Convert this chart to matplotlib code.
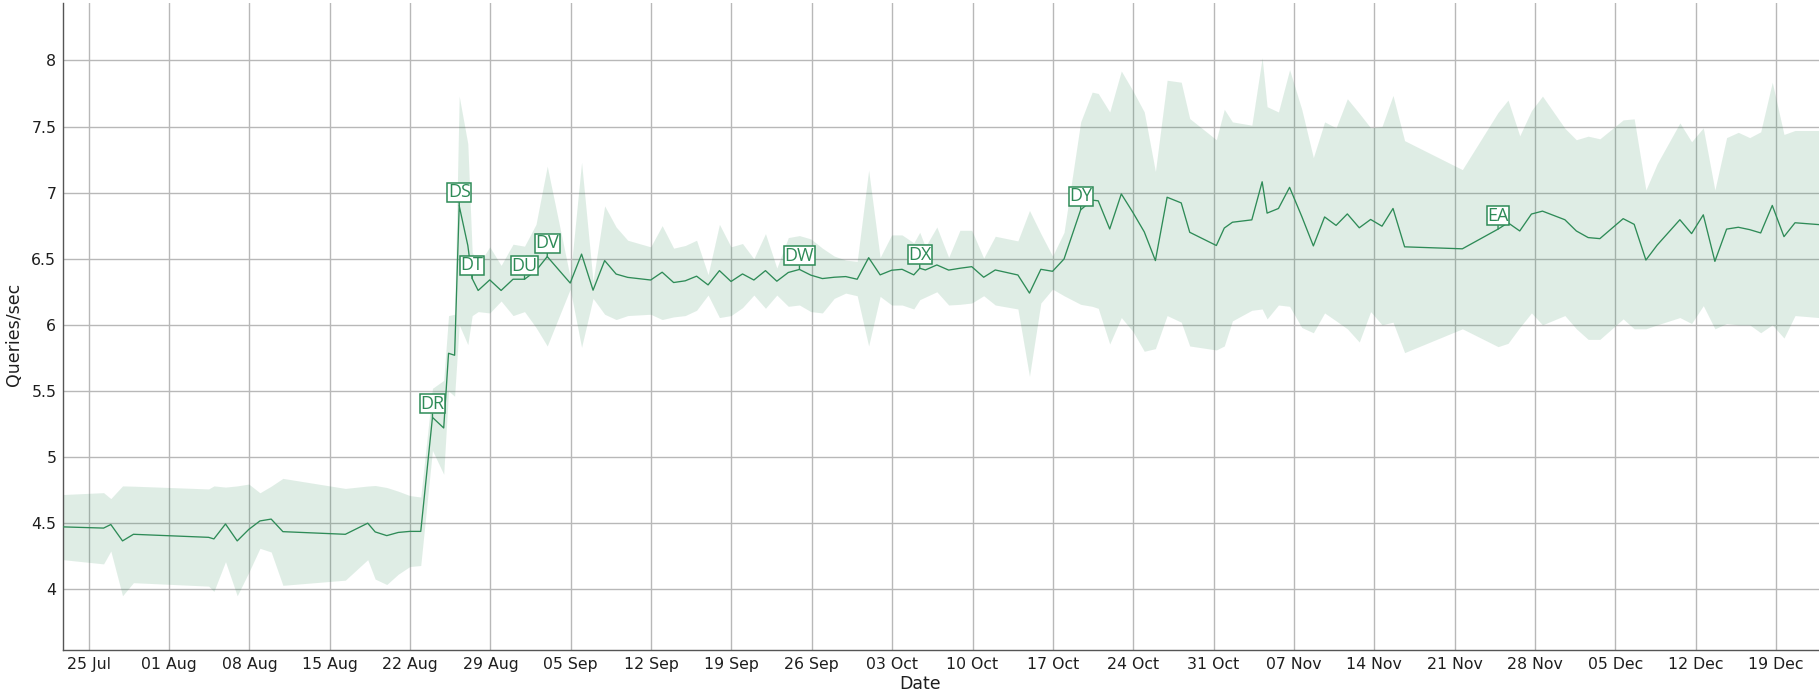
import numpy as np
import pandas as pd
import matplotlib
matplotlib.use('Agg')
import matplotlib.pyplot as plt

# ---------------- data ----------------
base_date = '2021-07-25'
day_offset = [
    -2.21, 1.30, 1.93, 2.95, 3.90, 10.45, 10.91, 11.92, 12.94, 13.95,
    14.92, 15.90, 16.92, 22.36, 24.31, 24.96, 25.97, 26.97, 27.98, 28.93,
    29.95, 30.93, 31.35, 31.88, 32.28, 33.03, 33.41, 33.93, 34.94, 35.93,
    36.97, 37.97, 38.97, 39.95, 41.95, 42.94, 43.94, 44.95, 45.95, 46.96,
    48.96, 49.96, 50.96, 51.97, 52.96, 53.96, 54.95, 55.96, 56.96, 57.95,
    58.96, 59.95, 60.95, 61.92, 62.91, 63.92, 64.95, 65.95, 66.95, 67.95,
    68.95, 69.95, 70.86, 71.88, 72.40, 72.89, 73.89, 74.92, 75.90, 76.93,
    77.97, 78.98, 80.95, 81.96, 82.95, 83.97, 84.97, 86.42, 87.42, 87.95,
    88.95, 89.96, 90.97, 91.96, 92.93, 93.95, 95.18, 95.92, 98.24, 98.93,
    99.64, 101.33, 102.23, 102.66, 103.65, 104.62, 105.68, 106.69, 107.67, 108.67,
    109.65, 110.69, 111.68, 112.67, 113.63, 114.64, 119.67, 122.78, 123.65, 124.67,
    125.69, 126.65, 128.60, 129.60, 130.63, 131.65, 133.68, 134.64, 135.66, 136.65,
    138.62, 139.64, 140.66, 141.67, 142.69, 143.71, 144.70, 145.66, 146.67, 147.69,
    148.65, 150.74,
]
qps_mean = [
    4.472, 4.463, 4.490, 4.366, 4.416, 4.393, 4.381, 4.494, 4.366, 4.453,
    4.517, 4.531, 4.436, 4.416, 4.500, 4.434, 4.406, 4.430, 4.438, 4.438,
    5.300, 5.220, 5.785, 5.770, 6.900, 6.600, 6.350, 6.260, 6.340, 6.260,
    6.345, 6.345, 6.410, 6.516, 6.316, 6.535, 6.262, 6.486, 6.384, 6.359,
    6.339, 6.398, 6.320, 6.333, 6.368, 6.302, 6.410, 6.328, 6.385, 6.339,
    6.410, 6.330, 6.396, 6.419, 6.376, 6.350, 6.360, 6.365, 6.345, 6.508,
    6.378, 6.413, 6.420, 6.378, 6.428, 6.415, 6.453, 6.414, 6.428, 6.440,
    6.360, 6.415, 6.377, 6.240, 6.420, 6.405, 6.498, 6.870, 6.943, 6.938,
    6.725, 6.990, 6.850, 6.703, 6.486, 6.965, 6.922, 6.700, 6.600, 6.732,
    6.776, 6.794, 7.082, 6.845, 6.880, 7.040, 6.820, 6.597, 6.816, 6.752,
    6.839, 6.734, 6.797, 6.746, 6.880, 6.590, 6.575, 6.724, 6.772, 6.710,
    6.838, 6.860, 6.795, 6.710, 6.660, 6.652, 6.803, 6.760, 6.490, 6.604,
    6.795, 6.690, 6.832, 6.480, 6.724, 6.738, 6.720, 6.695, 6.903, 6.667,
    6.772, 6.758,
]
qps_upper = [
    4.717, 4.731, 4.686, 4.782, 4.780, 4.759, 4.782, 4.773, 4.782, 4.796,
    4.730, 4.780, 4.839, 4.763, 4.781, 4.785, 4.770, 4.742, 4.709, 4.698,
    5.520, 5.580, 6.070, 6.080, 7.730, 7.370, 6.550, 6.450, 6.590, 6.450,
    6.610, 6.595, 6.760, 7.200, 6.360, 7.230, 6.330, 6.900, 6.740, 6.640,
    6.590, 6.750, 6.580, 6.600, 6.640, 6.380, 6.760, 6.590, 6.615, 6.500,
    6.690, 6.430, 6.660, 6.675, 6.650, 6.580, 6.520, 6.490, 6.480, 7.170,
    6.510, 6.680, 6.680, 6.620, 6.700, 6.590, 6.740, 6.510, 6.715, 6.715,
    6.505, 6.670, 6.635, 6.865, 6.690, 6.520, 6.700, 7.535, 7.760, 7.750,
    7.610, 7.920, 7.770, 7.610, 7.160, 7.850, 7.835, 7.560, 7.400, 7.630,
    7.535, 7.510, 8.020, 7.650, 7.610, 7.930, 7.630, 7.265, 7.535, 7.490,
    7.710, 7.600, 7.490, 7.500, 7.735, 7.393, 7.174, 7.607, 7.700, 7.430,
    7.620, 7.730, 7.487, 7.400, 7.427, 7.407, 7.550, 7.558, 7.020, 7.220,
    7.527, 7.385, 7.490, 7.020, 7.416, 7.456, 7.416, 7.460, 7.835, 7.440,
    7.470, 7.470,
]
qps_lower = [
    4.224, 4.192, 4.289, 3.951, 4.050, 4.024, 3.984, 4.209, 3.951, 4.128,
    4.310, 4.282, 4.030, 4.069, 4.224, 4.077, 4.036, 4.114, 4.172, 4.180,
    5.050, 4.870, 5.500, 5.460, 6.000, 5.850, 6.070, 6.100, 6.090, 6.180,
    6.070, 6.100, 5.980, 5.840, 6.270, 5.830, 6.200, 6.080, 6.040, 6.070,
    6.080, 6.040, 6.060, 6.070, 6.110, 6.225, 6.055, 6.070, 6.130, 6.225,
    6.125, 6.225, 6.140, 6.150, 6.100, 6.090, 6.200, 6.240, 6.220, 5.840,
    6.215, 6.150, 6.150, 6.120, 6.190, 6.210, 6.250, 6.150, 6.155, 6.165,
    6.220, 6.150, 6.120, 5.610, 6.165, 6.270, 6.220, 6.155, 6.140, 6.125,
    5.855, 6.055, 5.950, 5.800, 5.820, 6.070, 6.020, 5.840, 5.810, 5.840,
    6.030, 6.110, 6.120, 6.045, 6.150, 6.140, 5.980, 5.940, 6.090, 6.030,
    5.970, 5.870, 6.100, 6.000, 6.020, 5.790, 5.970, 5.835, 5.860, 5.980,
    6.090, 6.000, 6.070, 5.970, 5.890, 5.890, 6.045, 5.970, 5.970, 6.000,
    6.055, 6.010, 6.145, 5.970, 6.010, 6.000, 6.000, 5.940, 6.000, 5.900,
    6.070, 6.055,
]
ann_labels = ['DR', 'DS', 'DT', 'DU', 'DV', 'DW', 'DX', 'DY', 'EA']
ann_days = [29.95, 32.28, 33.41, 37.97, 39.95, 61.92, 72.40, 86.42, 122.78]

y_ticks = [4, 4.5, 5, 5.5, 6, 6.5, 7, 7.5, 8]
y_tick_labels = ['4', '4.5', '5', '5.5', '6', '6.5', '7', '7.5', '8']
x_tick_start, x_tick_end = '2021-07-25', '2021-12-19'
y_range = (3.544, 8.434)

# ---------------- figure ----------------
W, H = 1819, 694
GREEN = '#2e8b57'
TXT = '#1e1e1e'
fig = plt.figure(figsize=(W / 100, H / 100), dpi=100)
left_px, bottom_px, top_px = 63.3, 44.4, 3.0
ax = fig.add_axes([left_px / W, bottom_px / H, (W - left_px) / W,
                   (H - top_px - bottom_px) / H])

base = pd.Timestamp(base_date)
x = base + pd.to_timedelta(np.array(day_offset), unit='D')

ax.fill_between(x, qps_lower, qps_upper, color=GREEN, alpha=0.15,
                linewidth=0, zorder=2)
ax.plot(x, qps_mean, color=GREEN, lw=0.95, zorder=3)

for lab, d in zip(ann_labels, ann_days):
    t = base + pd.to_timedelta(d, unit='D')
    yv = float(np.interp(d, day_offset, qps_mean))
    ax.annotate(lab, xy=(t, yv), xytext=(0, 13.5), textcoords='offset pixels',
                ha='center', va='center', fontsize=13, color=GREEN,
                family=['Open Sans', 'DejaVu Sans'],
                bbox=dict(boxstyle='square,pad=0.03', fc='white', ec=GREEN, lw=1.1),
                arrowprops=dict(arrowstyle='-', color=GREEN, lw=1,
                                shrinkA=0, shrinkB=0),
                zorder=5)

ax.set_xlim(x[0], x[-1])
ax.set_ylim(*y_range)

ticks = pd.date_range(x_tick_start, x_tick_end, freq='7D')
ax.set_xticks(ticks)
ax.set_xticklabels([t.strftime('%d %b') for t in ticks])
ax.set_yticks(y_ticks)
ax.set_yticklabels(y_tick_labels)

ax.grid(True, color='#b8b8b8', lw=1)
ax.set_axisbelow(True)
for s in ['top', 'right']:
    ax.spines[s].set_visible(False)
for s in ['left', 'bottom']:
    ax.spines[s].set_color('#555555')
    ax.spines[s].set_linewidth(1)

ax.tick_params(axis='both', length=0, labelsize=11.3, colors=TXT)
ax.tick_params(axis='x', pad=5)
ax.tick_params(axis='y', pad=5)

fig.text(920 / W, 1 - 684 / H, 'Date', ha='center', va='center',
         fontsize=12.5, color=TXT)
fig.text(14 / W, 1 - 334 / H, 'Queries/sec', ha='center', va='center',
         rotation=90, fontsize=12.5, color=TXT)

fig.savefig('out.png', dpi=100)
